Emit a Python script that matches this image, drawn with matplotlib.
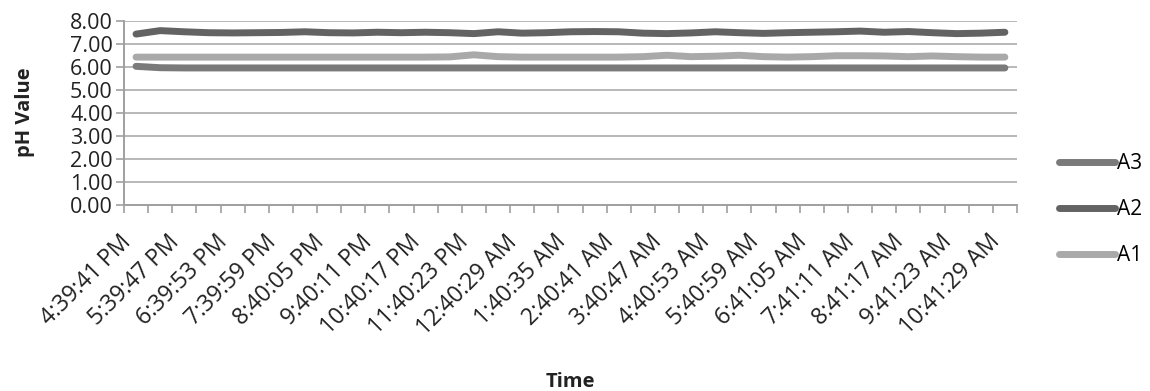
import matplotlib
matplotlib.use("Agg")
import matplotlib.pyplot as plt
import numpy as np

plt.rcParams['font.family'] = ['Open Sans', 'DejaVu Sans']

# 37 readings, one every ~30 minutes; labels shown for every second reading
time_labels = ["4:39:41 PM", "5:39:47 PM", "6:39:53 PM", "7:39:59 PM", "8:40:05 PM",
               "9:40:11 PM", "10:40:17 PM", "11:40:23 PM", "12:40:29 AM", "1:40:35 AM",
               "2:40:41 AM", "3:40:47 AM", "4:40:53 AM", "5:40:59 AM", "6:41:05 AM",
               "7:41:11 AM", "8:41:17 AM", "9:41:23 AM", "10:41:29 AM"]

A2 = [7.42, 7.57, 7.52, 7.48, 7.47, 7.48, 7.49, 7.52, 7.48, 7.47,
      7.50, 7.48, 7.50, 7.48, 7.44, 7.52, 7.46, 7.48, 7.52, 7.53,
      7.52, 7.46, 7.44, 7.47, 7.52, 7.48, 7.45, 7.48, 7.50, 7.52,
      7.55, 7.50, 7.53, 7.48, 7.44, 7.46, 7.50]
A1 = [6.42, 6.42, 6.42, 6.42, 6.42, 6.42, 6.42, 6.42, 6.42, 6.42,
      6.42, 6.42, 6.42, 6.43, 6.52, 6.44, 6.42, 6.42, 6.42, 6.42,
      6.42, 6.44, 6.50, 6.44, 6.46, 6.50, 6.44, 6.42, 6.44, 6.48,
      6.48, 6.47, 6.44, 6.47, 6.44, 6.42, 6.42]
A3 = [6.02, 5.96, 5.95, 5.95, 5.95, 5.95, 5.95, 5.95, 5.95, 5.95,
      5.95, 5.95, 5.95, 5.95, 5.95, 5.95, 5.95, 5.95, 5.95, 5.95,
      5.95, 5.95, 5.95, 5.95, 5.95, 5.95, 5.95, 5.95, 5.95, 5.95,
      5.95, 5.95, 5.95, 5.95, 5.95, 5.95, 5.95]

yticks = [0, 1, 2, 3, 4, 5, 6, 7, 8]

fig = plt.figure(figsize=(11.5, 3.91), dpi=100)
ax = fig.add_axes([0.1078, 0.4757, 0.7765, 0.4713])

x = np.arange(len(A2))
lw = 5.0
ax.plot(x, A3, color="#7a7a7a", lw=lw, solid_capstyle="round", solid_joinstyle="round", label="A3", zorder=3)
ax.plot(x, A2, color="#636363", lw=lw, solid_capstyle="round", solid_joinstyle="round", label="A2", zorder=3)
ax.plot(x, A1, color="#a9a9a9", lw=lw, solid_capstyle="round", solid_joinstyle="round", label="A1", zorder=3)

ax.set_xlim(-0.5, len(A2) - 0.5)
ax.set_ylim(0, 8)
ax.set_yticks(yticks)
ax.set_yticklabels([f"{v:.2f}" for v in yticks], fontsize=15.5, color="#222222")
ax.yaxis.grid(True, color="#b8b8b8", lw=1.4)
ax.set_axisbelow(True)

ax.set_xticks(np.arange(-0.5, len(A2), 1.0))
ax.set_xticklabels([])
ax.set_xticks(np.arange(0, len(A2), 2), minor=True)
ax.set_xticklabels(time_labels, minor=True, rotation=45, ha="right", va="top",
                   fontsize=16.5, color="#222222", rotation_mode="default")
ax.tick_params(axis="x", which="major", length=6, width=1.2, color="#a0a0a0", direction="out")
ax.tick_params(axis="x", which="minor", length=0, pad=18)
ax.tick_params(axis="y", length=6, width=1.2, color="#a0a0a0", pad=2)

for s in ["top", "right"]:
    ax.spines[s].set_visible(False)
for s in ["left", "bottom"]:
    ax.spines[s].set_color("#a0a0a0")
    ax.spines[s].set_linewidth(1.4)

fig.text(0.022, 0.713, "pH Value", rotation=90, ha="center", va="center",
         fontsize=14.5, fontweight="bold", color="#222222")
fig.text(0.4957, 0.023, "Time", ha="center", va="center",
         fontsize=14.5, fontweight="bold", color="#222222")

leg = ax.legend(loc="center left", bbox_to_anchor=(0.921, 0.463), bbox_transform=fig.transFigure,
                frameon=False, fontsize=15, handlelength=2.7, handletextpad=0.1,
                labelspacing=1.2, borderaxespad=0, borderpad=0)

fig.savefig("out.png", dpi=100, facecolor="white")
